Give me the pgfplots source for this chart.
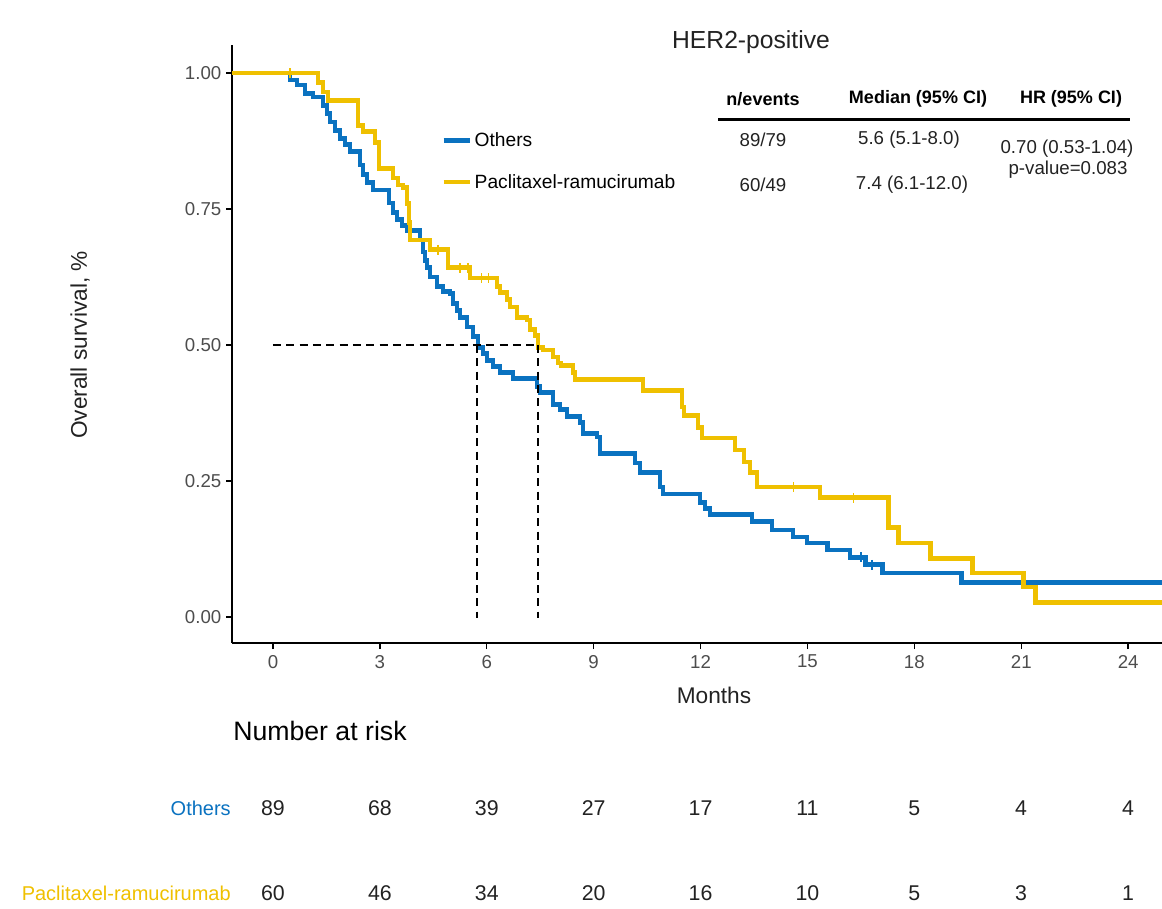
\documentclass[border=0pt]{standalone}
\usepackage{pgfplots}
\pgfplotsset{compat=1.18}
\usepackage{fontspec}
\setmainfont{Liberation Sans}
\definecolor{kmblue}{HTML}{0A72C0}
\definecolor{kmyel}{HTML}{EFC000}
\definecolor{ticklab}{HTML}{4D4D4D}
\definecolor{txt}{HTML}{222222}
\newcommand{\fs}[1]{\fontsize{#1}{#1}\selectfont}
\begin{document}
\begin{tikzpicture}
\begin{axis}[
  at={(0,0)}, anchor=south west, scale only axis,
  width=697.5pt, height=448.5pt,
  xmin=-1.15, xmax=24.95, ymin=-0.0478, ymax=1.0515,
  axis x line*=bottom, axis y line*=left,
  axis line style={-, line width=1.4pt, black},
  xtick={0,3,6,9,12,15,18,21,24},
  xticklabels={0,3,6,9,12,15,18,21,24},
  ytick={0,0.25,0.5,0.75,1},
  yticklabels={0.00,0.25,0.50,0.75,1.00},
  tick align=outside, major tick length=4.5pt,
  tick style={black, line width=1pt},
  ticklabel style={font=\fs{14}, text=ticklab},
  xticklabel style={yshift=-1pt},
  legend style={at={(axis description cs:0.2247,0.858)}, anchor=north west,
    draw=none, fill=none, font=\fs{14.4}, row sep=15pt, inner sep=0pt,
    cells={anchor=west}},
  legend image code/.code={\draw[#1] (0pt,0pt) -- (19.5pt,0pt);},
]
% Others (blue)
\addplot[const plot, kmblue, line width=3.6pt, forget plot] coordinates {
(-1.15,1.0) (0.477,0.987) (0.674,0.978) (0.898,0.963) (1.123,0.956)
(1.404,0.941) (1.516,0.926) (1.600,0.910) (1.740,0.895) (1.881,0.880)
(2.021,0.868) (2.161,0.855) (2.442,0.831) (2.526,0.813) (2.639,0.798)
(2.807,0.785) (3.256,0.761) (3.368,0.743) (3.481,0.730) (3.621,0.719)
(3.761,0.711) (4.126,0.693) (4.211,0.671) (4.267,0.656) (4.323,0.642)
(4.407,0.625) (4.604,0.607) (4.772,0.599) (4.968,0.594) (5.053,0.577)
(5.165,0.564) (5.249,0.551) (5.446,0.533) (5.614,0.515) (5.754,0.496)
(5.895,0.485) (6.007,0.472) (6.175,0.460) (6.372,0.449) (6.737,0.438)
(7.411,0.423) (7.495,0.412) (7.860,0.390) (8.056,0.381) (8.253,0.368)
(8.618,0.357) (8.702,0.338) (9.095,0.331) (9.179,0.301) (10.161,0.283)
(10.302,0.265) (10.863,0.239) (10.947,0.226) (11.986,0.210) (12.126,0.200)
(12.267,0.189) (13.446,0.175) (14.007,0.160) (14.596,0.147) (14.989,0.136)
(15.551,0.123) (16.196,0.110) (16.618,0.096) (17.095,0.081) (19.312,0.064)
(25.0,0.064)};
\addplot[only marks, mark=|, mark size=3.75pt, kmblue, line width=1pt, forget plot] coordinates {
(16.5,0.110) (16.81,0.096)};
% Paclitaxel-ramucirumab (yellow)
\addplot[const plot, kmyel, line width=3.6pt, forget plot] coordinates {
(-1.15,1.0) (1.263,0.982) (1.404,0.965) (1.544,0.949) (2.386,0.904)
(2.526,0.893) (2.863,0.873) (2.975,0.825) (3.368,0.807) (3.509,0.794)
(3.649,0.789) (3.761,0.760) (3.818,0.725) (3.846,0.693) (4.407,0.675)
(4.912,0.642) (5.530,0.623) (6.288,0.607) (6.372,0.596) (6.568,0.583)
(6.653,0.570) (6.849,0.551) (7.130,0.546) (7.214,0.528) (7.354,0.518)
(7.439,0.496) (7.579,0.491) (7.860,0.478) (8.000,0.467) (8.084,0.463)
(8.421,0.450) (8.477,0.436) (10.386,0.417) (11.481,0.386) (11.537,0.371)
(11.930,0.349) (12.042,0.329) (12.968,0.307) (13.221,0.285) (13.389,0.265)
(13.586,0.239) (15.354,0.219) (17.263,0.164) (17.544,0.136) (18.442,0.108)
(19.621,0.081) (21.053,0.055) (21.389,0.026) (25.0,0.026)};
\addplot[only marks, mark=|, mark size=3.75pt, kmyel, line width=1pt, forget plot] coordinates {
(0.48,1.0) (4.63,0.675) (5.25,0.642) (5.47,0.642) (5.85,0.623) (6.05,0.623)
(14.6,0.239) (16.3,0.219)};
% median lines
\addplot[black, line width=1.4pt, dash pattern=on 6pt off 4pt, forget plot] coordinates {(0,0.5) (7.44,0.5)};
\addplot[black, line width=1.4pt, dash pattern=on 6pt off 4pt, forget plot] coordinates {(5.73,0.5) (5.73,-0.002)};
\addplot[black, line width=1.4pt, dash pattern=on 6pt off 4pt, forget plot] coordinates {(7.44,0.5) (7.44,-0.002)};
\addlegendimage{kmblue, line width=3.6pt}
\addlegendentry{Others}
\addlegendimage{kmyel, line width=3.6pt}
\addlegendentry{Paclitaxel-ramucirumab}
\end{axis}
\begin{scope}[shift={(-174pt,482.25pt)}, x=0.75pt, y=-0.75pt]
  % axis labels
  \node[font=\fs{17}, text=txt] at (714,695) {Months};
  \node[font=\fs{17}, text=txt, rotate=90] at (80,345) {Overall survival, \%};
  % title
  \node[font=\fs{18.5}, text=txt] at (751,42) {HER2-positive};
  % table
  \node[font=\bfseries\fs{13.5}, text=black] at (763,99) {n/events};
  \node[font=\bfseries\fs{13.5}, text=black] at (918,99) {Median (95\% CI)};
  \node[font=\bfseries\fs{13.5}, text=black] at (1071,99) {HR (95\% CI)};
  \fill[black] (718,118.5) rectangle (1130,121.5);
  \node[font=\fs{14}, text=txt] at (763,140) {89/79};
  \node[font=\fs{14}, text=txt] at (909,140) {5.6 (5.1-8.0)};
  \node[font=\fs{14}, text=txt] at (763,185) {60/49};
  \node[font=\fs{14}, text=txt] at (912,185) {7.4 (6.1-12.0)};
  \node[font=\fs{14}, text=txt] at (1067,149) {0.70 (0.53-1.04)};
  \node[font=\fs{14}, text=txt] at (1068,170) {p-value=0.083};
  % number at risk
  \node[font=\fs{20}, text=black, anchor=west, inner sep=0pt] at (233,731) {Number at risk};
  \node[font=\fs{15}, text=kmblue, anchor=east, inner sep=0pt] at (231,808) {Others};
  \node[font=\fs{15}, text=kmyel, anchor=east, inner sep=0pt] at (231,893) {Paclitaxel-ramucirumab};
  \foreach \v [count=\k from 0] in {89,68,39,27,17,11,5,4,4} {
    \node[font=\fs{16}, text=txt] at ({273+106.875*\k},808) {\v};
  }
  \foreach \v [count=\k from 0] in {60,46,34,20,16,10,5,3,1} {
    \node[font=\fs{16}, text=txt] at ({273+106.875*\k},893) {\v};
  }
\end{scope}
\pgfresetboundingbox
\path[use as bounding box] (-174pt,-198.75pt) rectangle (697.5pt,482.25pt);
\end{tikzpicture}
\end{document}
